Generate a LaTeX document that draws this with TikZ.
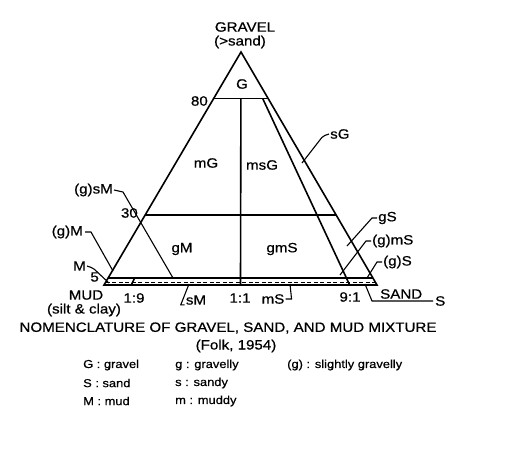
\documentclass[tikz,border=0pt]{standalone}
\usepackage{fontspec}
\setmainfont{Liberation Sans}[FakeStretch=1.12, FakeBold=0.6]
\usetikzlibrary{calc}

\begin{document}
\begin{tikzpicture}[
    x=1pt, y=-1pt,
    edge/.style={line width=1.6pt, line join=miter},
    leader/.style={line width=1.1pt},
    trace/.style={line width=0.9pt, dash pattern=on 4pt off 2.5pt},
    lbl/.style={font=\fontsize{13.5}{15}\selectfont, inner sep=0pt},
    key/.style={font=\fontsize{11.5}{13}\selectfont, inner sep=0pt, anchor=west}
  ]
    \useasboundingbox (0,0) rectangle (509,467);

    % corners
    \coordinate (gravel) at (241,52);
    \coordinate (mud) at (104,285);
    \coordinate (sand) at (377,285);

    % gravel levels (5 and trace drawn wider than true scale)
    \coordinate (l80) at ($(mud)!0.8!(gravel)$);
    \coordinate (r80) at ($(sand)!0.8!(gravel)$);
    \coordinate (l30) at ($(mud)!0.3!(gravel)$);
    \coordinate (r30) at ($(sand)!0.3!(gravel)$);
    \coordinate (l5) at ($(mud)!0.03!(gravel)$);
    \coordinate (r5) at ($(sand)!0.03!(gravel)$);
    \coordinate (ltr) at ($(mud)!0.013!(gravel)$);
    \coordinate (rtr) at ($(sand)!0.013!(gravel)$);

    \draw[edge] (mud) -- (gravel) -- (sand) -- cycle;
    \draw[edge] (l80) -- (r80);
    \draw[edge] (l30) -- (r30);
    \draw[edge] (l5) -- (r5);
    \draw[trace] (ltr) -- (rtr);

    % sand : mud ratios
    \draw[edge] ($(l80)!0.5!(r80)$) -- ($(mud)!0.5!(sand)$);
    \draw[edge] ($(l80)!0.9!(r80)$) -- ($(mud)!0.9!(sand)$);
    \draw[edge] ($(l5)!0.1!(r5)$) -- ($(mud)!0.1!(sand)$);

    % corner labels
    \node[lbl] (gtop) at (245,27) {GRAVEL};
    \node[lbl] (gsub) at (240,42) {(>sand)};
    \node[lbl] (mtop) at (86,295) {MUD};
    \node[lbl] (msub) at (84,310) {(silt \& clay)};
    \node[lbl, anchor=west] (stop) at (380,294) {SAND};

    % percent and ratio marks
    \node[lbl, anchor=east] (p80) at (208,101) {80};
    \node[lbl, anchor=east] (p30) at (138,213) {30};
    \node[lbl, anchor=east] (p5) at (99,277) {5};
    \node[lbl] (r19) at (134,298) {1:9};
    \node[lbl] (r11) at (240,298) {1:1};
    \node[lbl] (r91) at (350,297) {9:1};

    % classes inside
    \node[lbl] (cG) at (242,84) {G};
    \node[lbl] (cmG) at (206,163) {mG};
    \node[lbl] (cmsG) at (262,165) {msG};
    \node[lbl] (cgM) at (182,249) {gM};
    \node[lbl] (cgmS) at (282,249) {gmS};

    % classes with leaders
    \node[lbl, anchor=west] (csG) at (330,134) {sG};
    \node[lbl, anchor=west] (cgS) at (378,218) {gS};
    \node[lbl, anchor=west] (ctmS) at (372,241) {(g)mS};
    \node[lbl, anchor=west] (ctS) at (383,262) {(g)S};
    \node[lbl, anchor=west] (cS) at (435,301) {S};
    \node[lbl] (cmS) at (273,299) {mS};
    \node[lbl] (csM) at (196,300) {sM};
    \node[lbl, anchor=east] (ctsM) at (113,190) {(g)sM};
    \node[lbl, anchor=east] (ctM) at (83,232) {(g)M};
    \node[lbl, anchor=east] (cM) at (86,266) {M};

    \coordinate (insG) at (302,163);
    \coordinate (ingS) at (347,246);
    \coordinate (intmS) at (340,275);
    \coordinate (intS) at (367,278);
    \coordinate (inS) at (365,284);
    \coordinate (inmS) at (290,284);
    \coordinate (insM) at (189,284);
    \coordinate (intsM) at (173,278);
    \coordinate (intM) at (113,271);
    \coordinate (inM) at (109,283);

    \draw[leader, rounded corners=2pt] ([xshift=-1pt]csG.west) -- ++(-6,2) -- (insG);
    \draw[leader] ([xshift=-1pt]cgS.west) -- ++(-5,0) -- (ingS);
    \draw[leader] ([xshift=-1pt]ctmS.west) -- ++(-5,0) -- (intmS);
    \draw[leader] ([xshift=-1pt]ctS.west) -- ++(-5,0) -- (intS);
    \draw[leader] ([xshift=-2pt]cS.west) -- (372,301) -- (inS);
    \draw[leader] ([xshift=1pt]cmS.east) -- ++(6,0) -- (inmS);
    \draw[leader] ([xshift=-1pt]csM.south west) -- ++(-4,0) -- (insM);
    \draw[leader] ([xshift=1pt]ctsM.east) -- ++(9,2) -- (intsM);
    \draw[leader] ([xshift=2pt]ctM.east) -- ++(6,0) -- (intM);
    \draw[leader, rounded corners=2pt] ([xshift=1pt]cM.east) -- ++(6,2) -- (inM);

    % caption and key
    \node[font=\fontsize{13.5}{15}\selectfont, inner sep=0pt] (title) at (228,328) {NOMENCLATURE OF GRAVEL, SAND, AND MUD MIXTURE};
    \node[lbl] (folk) at (236,346) {(Folk, 1954)};
    \node[key] (kG) at (83,365) {G : gravel};
    \node[key] (kS) at (83,383) {S : sand};
    \node[key] (kM) at (83,401) {M : mud};
    \node[key] (kg) at (175,365) {g : gravelly};
    \node[key] (ks) at (175,383) {s : sandy};
    \node[key] (km) at (175,401) {m : muddy};
    \node[key] (kt) at (287,365) {(g) : slightly gravelly};
\end{tikzpicture}
\end{document}
